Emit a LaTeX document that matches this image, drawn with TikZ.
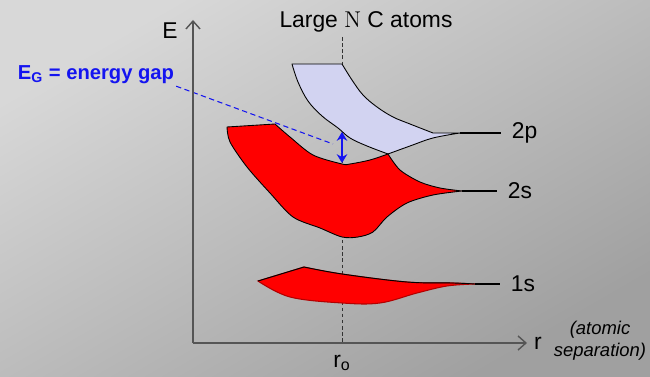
\documentclass[tikz,border=0pt]{standalone}
\usepackage{fontspec}
\setmainfont{Liberation Sans}
\usetikzlibrary{arrows.meta,calc}

\definecolor{bgtop}{HTML}{D8D8D8}
\definecolor{bgbot}{HTML}{A0A0A0}
\definecolor{bandred}{HTML}{FF0000}
\definecolor{bandlav}{HTML}{D2D3F1}
\definecolor{gapblue}{HTML}{1414F0}
\definecolor{axisgray}{HTML}{555555}

\begin{document}
\begin{tikzpicture}[
    x=0.02cm, y=-0.02cm,
    >=Stealth,
    every node/.style={font=\fontsize{13}{15}\selectfont, inner sep=1pt},
    axis/.style={draw=axisgray, line width=0.8pt, -{Straight Barb[length=4.5pt,width=8pt]}},
    lowerband/.style={fill=bandred, draw=black, line width=0.5pt, line join=round},
    upperband/.style={fill=bandlav, draw=black, line width=0.5pt, line join=round},
    levelline/.style={black, line width=0.7pt},
    guide/.style={black!80, line width=0.5pt, dash pattern=on 2pt off 1.5pt},
    gapline/.style={gapblue, line width=0.6pt, dash pattern=on 3pt off 2pt},
    gaparrow/.style={gapblue, line width=1.6pt, {Stealth[length=5pt,width=6pt]}-{Stealth[length=5pt,width=6pt]}},
    levellabel/.style={anchor=west, inner xsep=6pt, inner ysep=0pt},
]

% ---- Background ----
\shade[top color=bgtop, bottom color=bgbot, shading angle=30] (0,0) rectangle (650,377);
\useasboundingbox (0,0) rectangle (650,377);

% ---- Labels ----
\node (elabel) at (170,31) {E};
\node (title) at (366,22) {Large {\fontfamily{lmr}\selectfont N} C atoms};
\node (rlabel) at (538,343) {r};
\node[font=\fontsize{10.5}{12.5}\selectfont\itshape, align=center] (seplabel) at (600,341) {(atomic\\separation)};
\node (rolabel) at (342,363) {r\textsubscript{o}};
\node[font=\fontsize{11.5}{13}\selectfont\bfseries, text=gapblue] (eglabel) at (96,75) {E\textsubscript{G} = energy gap};

\node[levellabel] (l2p) at (501,133) {2p};
\node[levellabel] (l2s) at (497,191) {2s};
\node[levellabel] (l1s) at (500,284) {1s};

% ---- Axes and r_o guide ----
\coordinate (origin) at (193,343);
\coordinate (ytip) at (193,20);
\coordinate (xtip) at (527,343);
\coordinate (guidetop) at (342,37);
\coordinate (guidebot) at (rolabel |- origin);

\draw[guide] (guidetop) -- (guidebot);

% ---- 2p band ----
\coordinate (p2tip) at (460,133);
\filldraw[upperband] (292,64) -- (342,64)
  -- plot[smooth, tension=0.6] coordinates {(342,64) (352,80) (363,95) (377,107) (393,117) (410,124) (433,133)}
  -- (p2tip)
  -- plot[smooth, tension=0.6] coordinates {(460,133) (433,138) (410,146) (388,154)}
  -- plot[smooth, tension=0.6] coordinates {(388,154) (367,146) (350,138) (338,128) (322,116) (308,101) (298,82) (292,64)}
  -- cycle;
\draw[levelline] (p2tip) -- (l2p.west);

% ---- 2s band ----
\coordinate (s2tip) at (462,191);
\filldraw[lowerband] (227,127) -- (275,124)
  -- plot[smooth, tension=0.5] coordinates {(275,124) (290,137) (313,155) (342,164) (350,164) (370,160) (388,154)}
  -- plot[smooth, tension=0.5] coordinates {(388,154) (400,170) (420,182) (440,188) (462,191)}
  -- plot[smooth, tension=0.5] coordinates {(462,191) (433,195) (407,203) (387,217) (373,232) (358,237) (342,237) (320,228) (293,217) (270,193) (247,167) (230,142) (227,127)}
  -- cycle;
\draw[levelline] (s2tip) -- (l2s.west);

% ---- 1s band ----
\coordinate (s1tip) at (475,284);
\filldraw[fill=bandred, draw=red!70!black, line width=0.6pt] (258,281) -- (304,267)
  -- plot[smooth, tension=0.6] coordinates {(304,267) (342,274) (407,282) (453,283) (475,284)}
  -- plot[smooth, tension=0.6] coordinates {(475,284) (447,286) (417,293) (380,303) (342,303) (290,297) (258,281)}
  -- cycle;
\draw[levelline, line width=0.5pt] (258,281) -- (304,267)
  -- plot[smooth, tension=0.6] coordinates {(304,267) (342,274) (407,282) (453,283) (475,284)};
\draw[levelline] (s1tip) -- (l1s.west);

% ---- Energy gap ----
\coordinate (gapend) at (333,144);
\coordinate (gaptop) at (342,132);
\coordinate (gapbot) at (342,163);
\draw[gapline] (eglabel.south east) -- (gapend);
\draw[gaparrow] (gaptop) -- (gapbot);

\draw[axis] (origin) -- (ytip);
\draw[axis] (origin) -- (xtip);

\end{tikzpicture}
\end{document}
